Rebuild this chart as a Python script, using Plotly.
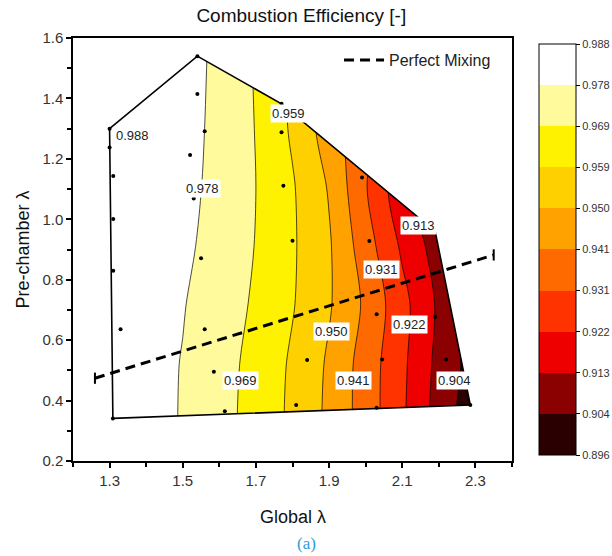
import plotly.graph_objects as go

# ---------------- data ----------------
global_lambda = [1.2, 1.3, 1.4, 1.5, 1.6, 1.7, 1.8, 1.9, 2.0, 2.1, 2.2, 2.3, 2.4]
prechamber_lambda = [0.32, 0.52, 0.72, 0.91, 1.11, 1.30, 1.60]
efficiency = [
    [0.9871, 0.9852, 0.9825, 0.9782, 0.9727, 0.9663, 0.9586, 0.9493, 0.9379, 0.9249, 0.9103, 0.8978, 0.8960],
    [0.9871, 0.9852, 0.9825, 0.9784, 0.9731, 0.9668, 0.9591, 0.9499, 0.9379, 0.9255, 0.9117, 0.9009, 0.8960],
    [0.9871, 0.9857, 0.9829, 0.9793, 0.9740, 0.9684, 0.9610, 0.9521, 0.9404, 0.9265, 0.9128, 0.8985, 0.8960],
    [0.9875, 0.9862, 0.9839, 0.9808, 0.9751, 0.9693, 0.9615, 0.9522, 0.9370, 0.9221, 0.9099, 0.8997, 0.8960],
    [0.9875, 0.9866, 0.9843, 0.9819, 0.9759, 0.9696, 0.9612, 0.9504, 0.9334, 0.9174, 0.9052, 0.8978, 0.8960],
    [0.9880, 0.9871, 0.9848, 0.9828, 0.9761, 0.9693, 0.9591, 0.9466, 0.9356, 0.9236, 0.9107, 0.9006, 0.8960],
    [0.9880, 0.9875, 0.9857, 0.9840, 0.9763, 0.9687, 0.9586, 0.9466, 0.9356, 0.9236, 0.9107, 0.9006, 0.8960],
]

levels = [0.896, 0.9052, 0.9144, 0.9236, 0.9328, 0.9420, 0.9512, 0.9604, 0.9696, 0.9788, 0.988]
level_labels = ["0.896", "0.904", "0.913", "0.922", "0.931", "0.941",
                "0.950", "0.959", "0.969", "0.978", "0.988"]
band_colors = ["#2a0000", "#8b0000", "#ee0000", "#ff3300", "#ff6a00",
               "#ffa200", "#ffd000", "#fff200", "#fffa9c", "#ffffff"]

# measured domain boundary (clockwise from bottom-left)
boundary_x = [1.309, 1.300, 1.540, 1.770, 2.190, 2.286, 1.309]
boundary_y = [0.341, 1.300, 1.540, 1.382, 0.960, 0.385, 0.341]

# measurement points
point_x = [1.300, 1.300, 1.310, 1.310, 1.310, 1.330, 1.309,
           1.540, 1.540, 1.560, 1.520, 1.530, 1.550, 1.560, 1.585, 1.615,
           1.770, 1.770, 1.775, 1.800, 1.840, 1.810,
           1.990, 2.010, 2.030, 2.045, 2.030,
           2.190, 2.220, 2.286]
point_y = [1.300, 1.238, 1.143, 1.001, 0.830, 0.636, 0.341,
           1.540, 1.415, 1.291, 1.213, 1.069, 0.871, 0.636, 0.495, 0.365,
           1.382, 1.288, 1.111, 0.929, 0.534, 0.385,
           1.138, 0.928, 0.686, 0.536, 0.376,
           0.677, 0.536, 0.385]

# perfect mixing line
mixing_x = [1.26, 2.35]
mixing_y = [0.474, 0.882]

# contour label positions
label_text = ["0.988", "0.978", "0.959", "0.913", "0.931", "0.950", "0.922", "0.969", "0.941", "0.904"]
label_x = [1.362, 1.553, 1.790, 2.144, 2.042, 1.907, 2.119, 1.659, 1.968, 2.243]
label_y = [1.278, 1.102, 1.351, 0.978, 0.834, 0.628, 0.652, 0.465, 0.468, 0.468]

x_ticks = [1.3, 1.5, 1.7, 1.9, 2.1, 2.3]
y_ticks = [0.2, 0.4, 0.6, 0.8, 1.0, 1.2, 1.4, 1.6]

FONT = "Liberation Sans, Arial, sans-serif"

# ---------------- colorscales ----------------
nb = len(band_colors)
nl = len(levels)
# contour fill map: band k is sampled at (k+1)/nl
fill_scale = []
for k, c in enumerate(band_colors):
    lo = 0.0 if k == 0 else (k + 0.5) / nl
    hi = 1.0 if k == nb - 1 else (k + 1.5) / nl
    fill_scale.append([lo, c])
    fill_scale.append([hi, c])

bar_scale = []
for k, c in enumerate(band_colors):
    bar_scale.append([k / nb, c])
    bar_scale.append([(k + 1) / nb, c])

fig = go.Figure()

fig.add_trace(go.Contour(
    x=global_lambda, y=prechamber_lambda, z=efficiency,
    autocontour=False,
    contours=dict(start=levels[0], end=levels[-1], size=levels[1] - levels[0],
                  coloring="fill", showlines=True),
    colorscale=fill_scale,
    line=dict(color="black", width=0.7, smoothing=0.9),
    showscale=False, hoverinfo="skip", showlegend=False,
))

# white mask outside the measured domain
rx = [1.0, 2.6, 2.6, 1.0, 1.0]
ry = [0.0, 0.0, 1.8, 1.8, 0.0]
fig.add_trace(go.Scatter(
    x=rx + boundary_x + [1.0], y=ry + boundary_y + [0.0],
    mode="lines", fill="toself", fillcolor="white",
    line=dict(width=0, color="rgba(0,0,0,0)"),
    hoverinfo="skip", showlegend=False,
))

# domain outline
fig.add_trace(go.Scatter(
    x=boundary_x, y=boundary_y, mode="lines",
    line=dict(color="black", width=1.6),
    hoverinfo="skip", showlegend=False,
))

# measurement points
fig.add_trace(go.Scatter(
    x=point_x, y=point_y, mode="markers",
    marker=dict(color="black", size=4),
    hoverinfo="skip", showlegend=False,
))

# perfect mixing
fig.add_trace(go.Scatter(
    x=mixing_x, y=mixing_y, mode="lines", name="Perfect Mixing",
    line=dict(color="black", width=3, dash="10px,6px"),
))
fig.add_trace(go.Scatter(
    x=mixing_x, y=mixing_y, mode="markers",
    marker=dict(symbol="line-ns-open", size=8, color="black",
                line=dict(color="black", width=2)),
    hoverinfo="skip", showlegend=False,
))

# colorbar carrier
fig.add_trace(go.Scatter(
    x=[None, None], y=[None, None], mode="markers", showlegend=False,
    marker=dict(color=[levels[0], levels[-1]], cmin=levels[0], cmax=levels[-1],
                colorscale=bar_scale, showscale=True,
                colorbar=dict(x=1.0615, xanchor="left", xpad=0, y=0.5, yanchor="middle",
                              ypad=0, len=0.972, lenmode="fraction",
                              thickness=37, thicknessmode="pixels",
                              outlinecolor="black", outlinewidth=1,
                              tickvals=levels, ticktext=level_labels,
                              ticks="outside", ticklen=4, tickcolor="black",
                              tickfont=dict(family=FONT, size=11, color="#333333"))),
))

annotations = []
for t, ax_, ay_ in zip(label_text, label_x, label_y):
    annotations.append(dict(x=ax_, y=ay_, xref="x", yref="y", text=t, showarrow=False,
                            font=dict(family=FONT, size=13, color="#222222"),
                            bgcolor="white", borderpad=1))

annotations += [
    dict(x=0.5, y=-0.132, xref="paper", yref="paper", text="Global λ", showarrow=False,
         font=dict(family=FONT, size=18, color="#111111"), yanchor="middle"),
    dict(x=-0.116, y=0.5, xref="paper", yref="paper", text="Pre-chamber λ", showarrow=False,
         textangle=-90, font=dict(family=FONT, size=18, color="#111111"), xanchor="center"),
    dict(x=0.531, y=-0.194, xref="paper", yref="paper", text="(a)", showarrow=False,
         font=dict(family="Liberation Serif, Times New Roman, serif", size=17, color="#2e9bda"),
         yanchor="middle"),
]

fig.update_layout(
    width=612, height=556,
    margin=dict(l=73, r=100, t=38, b=95, autoexpand=False),
    paper_bgcolor="white", plot_bgcolor="white",
    title=dict(text="Combustion Efficiency [-]", x=0.52, xref="paper", xanchor="center",
               y=0.972, yanchor="middle", font=dict(family=FONT, size=19, color="#111111")),
    showlegend=True,
    legend=dict(x=0.606, y=0.948, xanchor="left", yanchor="middle", itemwidth=40,
                bgcolor="rgba(0,0,0,0)", font=dict(family=FONT, size=16, color="#222222")),
    annotations=annotations,
    font=dict(family=FONT),
)
fig.update_xaxes(range=[1.2, 2.4], tickvals=x_ticks, ticks="outside", ticklen=5,
                 tickwidth=1.5, tickcolor="black", showline=True, linecolor="black",
                 linewidth=1.5, mirror=True, showgrid=False, zeroline=False, automargin=False,
                 minor=dict(dtick=0.1, tick0=1.2, ticks="outside", ticklen=4, tickcolor="black"),
                 tickfont=dict(family=FONT, size=15, color="#333333"), tickformat=".1f")
fig.update_yaxes(range=[0.2, 1.6], tickvals=y_ticks, ticks="outside", ticklen=5,
                 tickwidth=1.5, tickcolor="black", showline=True, linecolor="black",
                 linewidth=1.5, mirror=True, showgrid=False, zeroline=False, automargin=False,
                 minor=dict(dtick=0.1, tick0=0.2, ticks="outside", ticklen=4, tickcolor="black"),
                 tickfont=dict(family=FONT, size=15, color="#333333"), tickformat=".1f")

fig.write_html("out.html")
